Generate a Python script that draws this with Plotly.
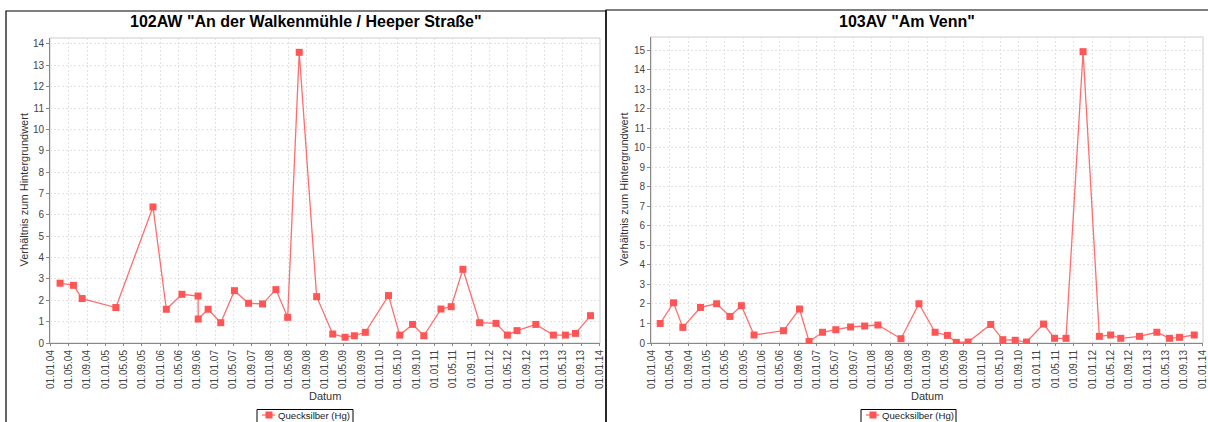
import plotly.graph_objects as go
import pandas as pd

# ---- data ----
series_name = "Quecksilber (Hg)"
y_title = "Verhältnis zum Hintergrundwert"
x_title = "Datum"

title_left = '102AW "An der Walkenmühle / Heeper Straße"'
dates_left = [
    "2004-03-05", "2004-06-02", "2004-07-30", "2005-03-11", "2005-11-13",
    "2006-02-10", "2006-05-25", "2006-09-09", "2006-09-10", "2006-11-15",
    "2007-02-07", "2007-05-09", "2007-08-11", "2007-11-12", "2008-02-09",
    "2008-04-27", "2008-07-13", "2008-11-06", "2009-02-21", "2009-05-14",
    "2009-07-15", "2009-09-26", "2010-02-27", "2010-05-13", "2010-08-06",
    "2010-10-20", "2011-02-11", "2011-04-20", "2011-07-07", "2011-10-26",
    "2012-02-12", "2012-04-28", "2012-07-01", "2012-11-03", "2013-02-28",
    "2013-05-19", "2013-07-25", "2013-11-02",
]
values_left = [
    2.80, 2.70, 2.08, 1.66, 6.37,
    1.58, 2.28, 2.20, 1.12, 1.58,
    0.95, 2.45, 1.86, 1.83, 2.50,
    1.20, 13.61, 2.17, 0.42, 0.27,
    0.34, 0.50, 2.22, 0.37, 0.87,
    0.34, 1.59, 1.70, 3.45, 0.95,
    0.92, 0.37, 0.58, 0.87, 0.37,
    0.37, 0.45, 1.28,
]

title_right = '103AV "Am Venn"'
dates_right = [
    "2004-02-28", "2004-05-26", "2004-07-27", "2004-11-21", "2005-03-08",
    "2005-06-04", "2005-08-19", "2005-11-11", "2006-05-25", "2006-09-08",
    "2006-11-11", "2007-02-08", "2007-05-07", "2007-08-13", "2007-11-14",
    "2008-02-10", "2008-07-12", "2008-11-08", "2009-02-23", "2009-05-16",
    "2009-07-14", "2009-09-30", "2010-02-27", "2010-05-18", "2010-08-08",
    "2010-10-22", "2011-02-12", "2011-04-26", "2011-07-11", "2011-11-01",
    "2012-02-17", "2012-05-02", "2012-07-08", "2012-11-09", "2013-03-04",
    "2013-05-27", "2013-08-01", "2013-11-07",
]
values_right = [
    1.00, 2.06, 0.80, 1.82, 2.01,
    1.36, 1.91, 0.41, 0.63, 1.74,
    0.08, 0.55, 0.68, 0.82, 0.87,
    0.92, 0.22, 2.01, 0.55, 0.39,
    0.03, 0.05, 0.95, 0.17, 0.14,
    0.05, 0.97, 0.24, 0.24, 14.92,
    0.34, 0.41, 0.24, 0.34, 0.55,
    0.24, 0.29, 0.41,
]

tick_dates = pd.date_range("2004-01-01", "2014-01-01", freq="4MS")
tick_vals = [d.strftime("%Y-%m-%d") for d in tick_dates]
tick_text = [d.strftime("%d.%m.%y") for d in tick_dates]

# ---- styling ----
W, H = 1208, 422
RED = "#FF5555"
LINE_RED = "rgba(255,85,85,0.85)"
FONT = "Liberation Sans, Arial, sans-serif"


def px_x(p):
    return p / W


def px_y(p):
    return 1 - p / H


fig = go.Figure()
fig.add_trace(go.Scatter(
    x=dates_left, y=values_left, mode="lines+markers", name=series_name,
    line=dict(color=LINE_RED, width=1.3),
    marker=dict(symbol="square", size=7, color=RED),
    xaxis="x", yaxis="y", showlegend=False,
))
fig.add_trace(go.Scatter(
    x=dates_right, y=values_right, mode="lines+markers", name=series_name,
    line=dict(color=LINE_RED, width=1.3),
    marker=dict(symbol="square", size=7, color=RED),
    xaxis="x2", yaxis="y2", showlegend=False,
))

GRID = "#e2e2e2"
xcommon = dict(
    type="date", range=["2003-12-29", "2014-01-04"],
    tickmode="array", tickvals=tick_vals, ticktext=tick_text, tickangle=-90,
    tickfont=dict(family=FONT, size=10, color="#444444"),
    showgrid=True, gridcolor=GRID, griddash="2px,2px", gridwidth=1,
    showline=True, linecolor="#888888", linewidth=1,
    ticks="outside", ticklen=2, tickcolor="#888888",
    zeroline=False, fixedrange=True, automargin=False,
)
ycommon = dict(
    dtick=1, tick0=0,
    tickfont=dict(family=FONT, size=10, color="#444444"),
    showgrid=True, gridcolor=GRID, griddash="2px,2px", gridwidth=1,
    showline=True, linecolor="#888888", linewidth=1,
    ticks="outside", ticklen=3, tickcolor="#888888",
    zeroline=False, fixedrange=True, automargin=False,
)

L = dict(x0=50, x1=600, top=38, bottom=343, leg0=257, leg1=353)
R = dict(x0=651, x1=1203, top=37, bottom=343, leg0=861, leg1=956)

fig.update_layout(
    width=W, height=H,
    margin=dict(l=0, r=0, t=0, b=0, autoexpand=False),
    paper_bgcolor="white", plot_bgcolor="white",
    font=dict(family=FONT, color="#333333"),
    xaxis=dict(xcommon, domain=[px_x(L["x0"]), px_x(L["x1"])], anchor="y"),
    yaxis=dict(ycommon, domain=[px_y(L["bottom"]), px_y(L["top"])], range=[0, 14.28], anchor="x"),
    xaxis2=dict(xcommon, domain=[px_x(R["x0"]), px_x(R["x1"])], anchor="y2"),
    yaxis2=dict(ycommon, domain=[px_y(R["bottom"]), px_y(R["top"])], range=[0, 15.67], anchor="x2"),
    showlegend=False,
)

shapes = []
# panel borders
shapes.append(dict(type="rect", xref="paper", yref="paper",
                   x0=px_x(6), x1=px_x(606), y0=-0.2, y1=px_y(11),
                   line=dict(color="black", width=1.2), layer="below"))
shapes.append(dict(type="rect", xref="paper", yref="paper",
                   x0=px_x(606), x1=1.05, y0=-0.2, y1=px_y(10),
                   line=dict(color="black", width=1.2), layer="below"))
# plot outlines
for xa, ya in (("x", "y"), ("x2", "y2")):
    shapes.append(dict(type="rect", xref=f"{xa} domain", yref=f"{ya} domain",
                       x0=0, x1=1, y0=0, y1=1,
                       line=dict(color="#cccccc", width=1), layer="below"))

annotations = []
for title, P, panel_c in ((title_left, L, 306), (title_right, R, 907)):
    annotations.append(dict(text=f"<b>{title}</b>", xref="paper", yref="paper",
                            x=px_x(panel_c), y=px_y(22), xanchor="center", yanchor="middle",
                            showarrow=False, font=dict(family=FONT, size=16, color="black")))
    annotations.append(dict(text=x_title, xref="paper", yref="paper",
                            x=px_x((P["x0"] + P["x1"]) / 2), y=px_y(396),
                            xanchor="center", yanchor="middle", showarrow=False,
                            font=dict(family=FONT, size=11, color="#333333")))
    annotations.append(dict(text=y_title, xref="paper", yref="paper",
                            x=px_x(P["x0"] - 27), y=px_y((P["top"] + P["bottom"]) / 2),
                            xanchor="center", yanchor="middle", textangle=-90, showarrow=False,
                            font=dict(family=FONT, size=11, color="#333333")))
    # legend box (cut off by the panel bottom, like the reference)
    lx0, lx1 = P["leg0"], P["leg1"]
    shapes.append(dict(type="rect", xref="paper", yref="paper",
                       x0=px_x(lx0), x1=px_x(lx1), y0=-0.1, y1=px_y(409.5),
                       line=dict(color="black", width=1), fillcolor="white"))
    shapes.append(dict(type="line", xref="paper", yref="paper",
                       x0=px_x(lx0 + 5), x1=px_x(lx0 + 18), y0=px_y(415), y1=px_y(415),
                       line=dict(color=LINE_RED, width=1.3)))
    shapes.append(dict(type="rect", xref="paper", yref="paper",
                       x0=px_x(lx0 + 8.5), x1=px_x(lx0 + 15.5), y0=px_y(418.5), y1=px_y(411.5),
                       line=dict(width=0), fillcolor=RED))
    annotations.append(dict(text=series_name, xref="paper", yref="paper",
                            x=px_x(lx0 + 18.5), y=px_y(415.5), xanchor="left", yanchor="middle",
                            showarrow=False, font=dict(family=FONT, size=9.6, color="#222222")))
fig.update_layout(shapes=shapes, annotations=annotations)

fig.write_html("out.html", include_plotlyjs=True,
               config={"displayModeBar": False},
               post_script="document.body.style.margin='0';document.body.style.overflow='hidden';")
